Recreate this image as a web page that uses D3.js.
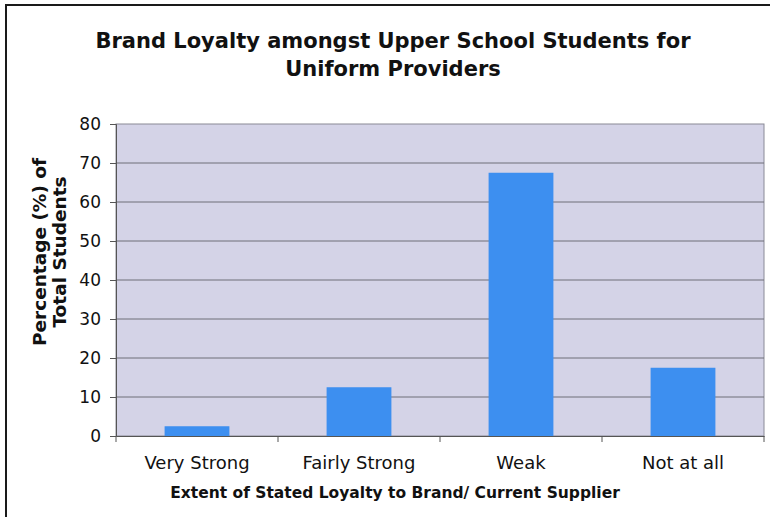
<!doctype html>
<html>
  <head>
    <meta charset="utf-8">
    <title>Brand Loyalty amongst Upper School Students</title>
    <script src="https://cdnjs.cloudflare.com/ajax/libs/d3/7.8.5/d3.min.js"></script>
    <style>
      body { margin: 0; background: #fff; }
      svg { display: block; font-family: "DejaVu Sans", Verdana, sans-serif; }
    </style>
  </head>
  <body>
    <div id="chart"></div>
    <script>
      // data
      const categories = ['Very Strong', 'Fairly Strong', 'Weak', 'Not at all'];
      const percentages = [2.5, 12.5, 67.5, 17.5];
      const yTicks = [0, 10, 20, 30, 40, 50, 60, 70, 80];

      const width = 770, height = 517;
      const plot = { left: 116, right: 764, top: 124, bottom: 436 };

      const svg = d3.select('#chart').append('svg')
        .attr('width', width)
        .attr('height', height);

      // outer frame (only top and left edges show in the scan)
      svg.append('rect')
        .attr('x', 6).attr('y', 5)
        .attr('width', 800).attr('height', 560)
        .attr('fill', 'none')
        .attr('stroke', '#1a1a1a')
        .attr('stroke-width', 2);

      const x = d3.scaleBand()
        .domain(categories)
        .range([plot.left, plot.right])
        .paddingInner(0.6)
        .paddingOuter(0.3);

      const xAxisScale = d3.scaleBand()
        .domain(categories)
        .range([plot.left, plot.right]);

      const y = d3.scaleLinear()
        .domain([0, 80])
        .range([plot.bottom, plot.top]);

      // plot background
      svg.append('rect')
        .attr('x', plot.left).attr('y', plot.top)
        .attr('width', plot.right - plot.left)
        .attr('height', plot.bottom - plot.top)
        .attr('fill', '#d4d3e7')
        .attr('stroke', '#8a8a96')
        .attr('stroke-width', 1);

      // gridlines
      svg.append('g')
        .selectAll('line')
        .data(yTicks.filter(d => d > 0 && d < 80))
        .join('line')
        .attr('x1', plot.left).attr('x2', plot.right)
        .attr('y1', d => y(d)).attr('y2', d => y(d))
        .attr('stroke', '#6e6e78')
        .attr('stroke-width', 1);

      // bars
      svg.append('g')
        .selectAll('rect')
        .data(percentages)
        .join('rect')
        .attr('x', (d, i) => x(categories[i]))
        .attr('y', d => y(d))
        .attr('width', x.bandwidth())
        .attr('height', d => y(0) - y(d))
        .attr('fill', '#3d8ff0');

      // y axis
      const yAxis = svg.append('g')
        .attr('transform', `translate(${plot.left},0)`)
        .call(d3.axisLeft(y).tickValues(yTicks).tickSize(6).tickPadding(9))
        .attr('font-family', null);
      yAxis.select('.domain').attr('stroke', '#555');
      yAxis.selectAll('.tick line').attr('stroke', '#555');
      yAxis.selectAll('.tick text')
        .attr('font-size', 17)
        .attr('fill', '#111');

      // x axis
      const xAxis = svg.append('g')
        .attr('transform', `translate(0,${plot.bottom})`)
        .call(d3.axisBottom(xAxisScale).tickSize(0).tickPadding(20))
        .attr('font-family', null);
      xAxis.select('.domain').attr('stroke', '#555');
      xAxis.selectAll('.tick text')
        .attr('font-size', 18)
        .attr('fill', '#111');
      // ticks sit on band boundaries
      xAxis.selectAll('.bound')
        .data(d3.range(categories.length + 1))
        .join('line')
        .attr('x1', i => plot.left + i * xAxisScale.step())
        .attr('x2', i => plot.left + i * xAxisScale.step())
        .attr('y1', 0).attr('y2', 6)
        .attr('stroke', '#555');

      // title
      const title = svg.append('text')
        .attr('text-anchor', 'middle')
        .attr('font-weight', 'bold')
        .attr('font-size', 21)
        .attr('fill', '#111');
      title.append('tspan').attr('x', 393).attr('y', 48)
        .text('Brand Loyalty amongst Upper School Students for');
      title.append('tspan').attr('x', 393).attr('y', 76)
        .text('Uniform Providers');

      // axis titles
      svg.append('text')
        .attr('x', 395)
        .attr('y', 498)
        .attr('text-anchor', 'middle')
        .attr('font-weight', 'bold')
        .attr('font-size', 15.5)
        .attr('fill', '#111')
        .text('Extent of Stated Loyalty to Brand/ Current Supplier');

      const yTitle = svg.append('text')
        .attr('transform', 'translate(0,252) rotate(-90)')
        .attr('text-anchor', 'middle')
        .attr('font-weight', 'bold')
        .attr('font-size', 18.5)
        .attr('fill', '#111');
      yTitle.append('tspan').attr('x', 0).attr('y', 46).text('Percentage (%) of');
      yTitle.append('tspan').attr('x', 0).attr('y', 66).text('Total Students');
    </script>
  </body>
</html>
